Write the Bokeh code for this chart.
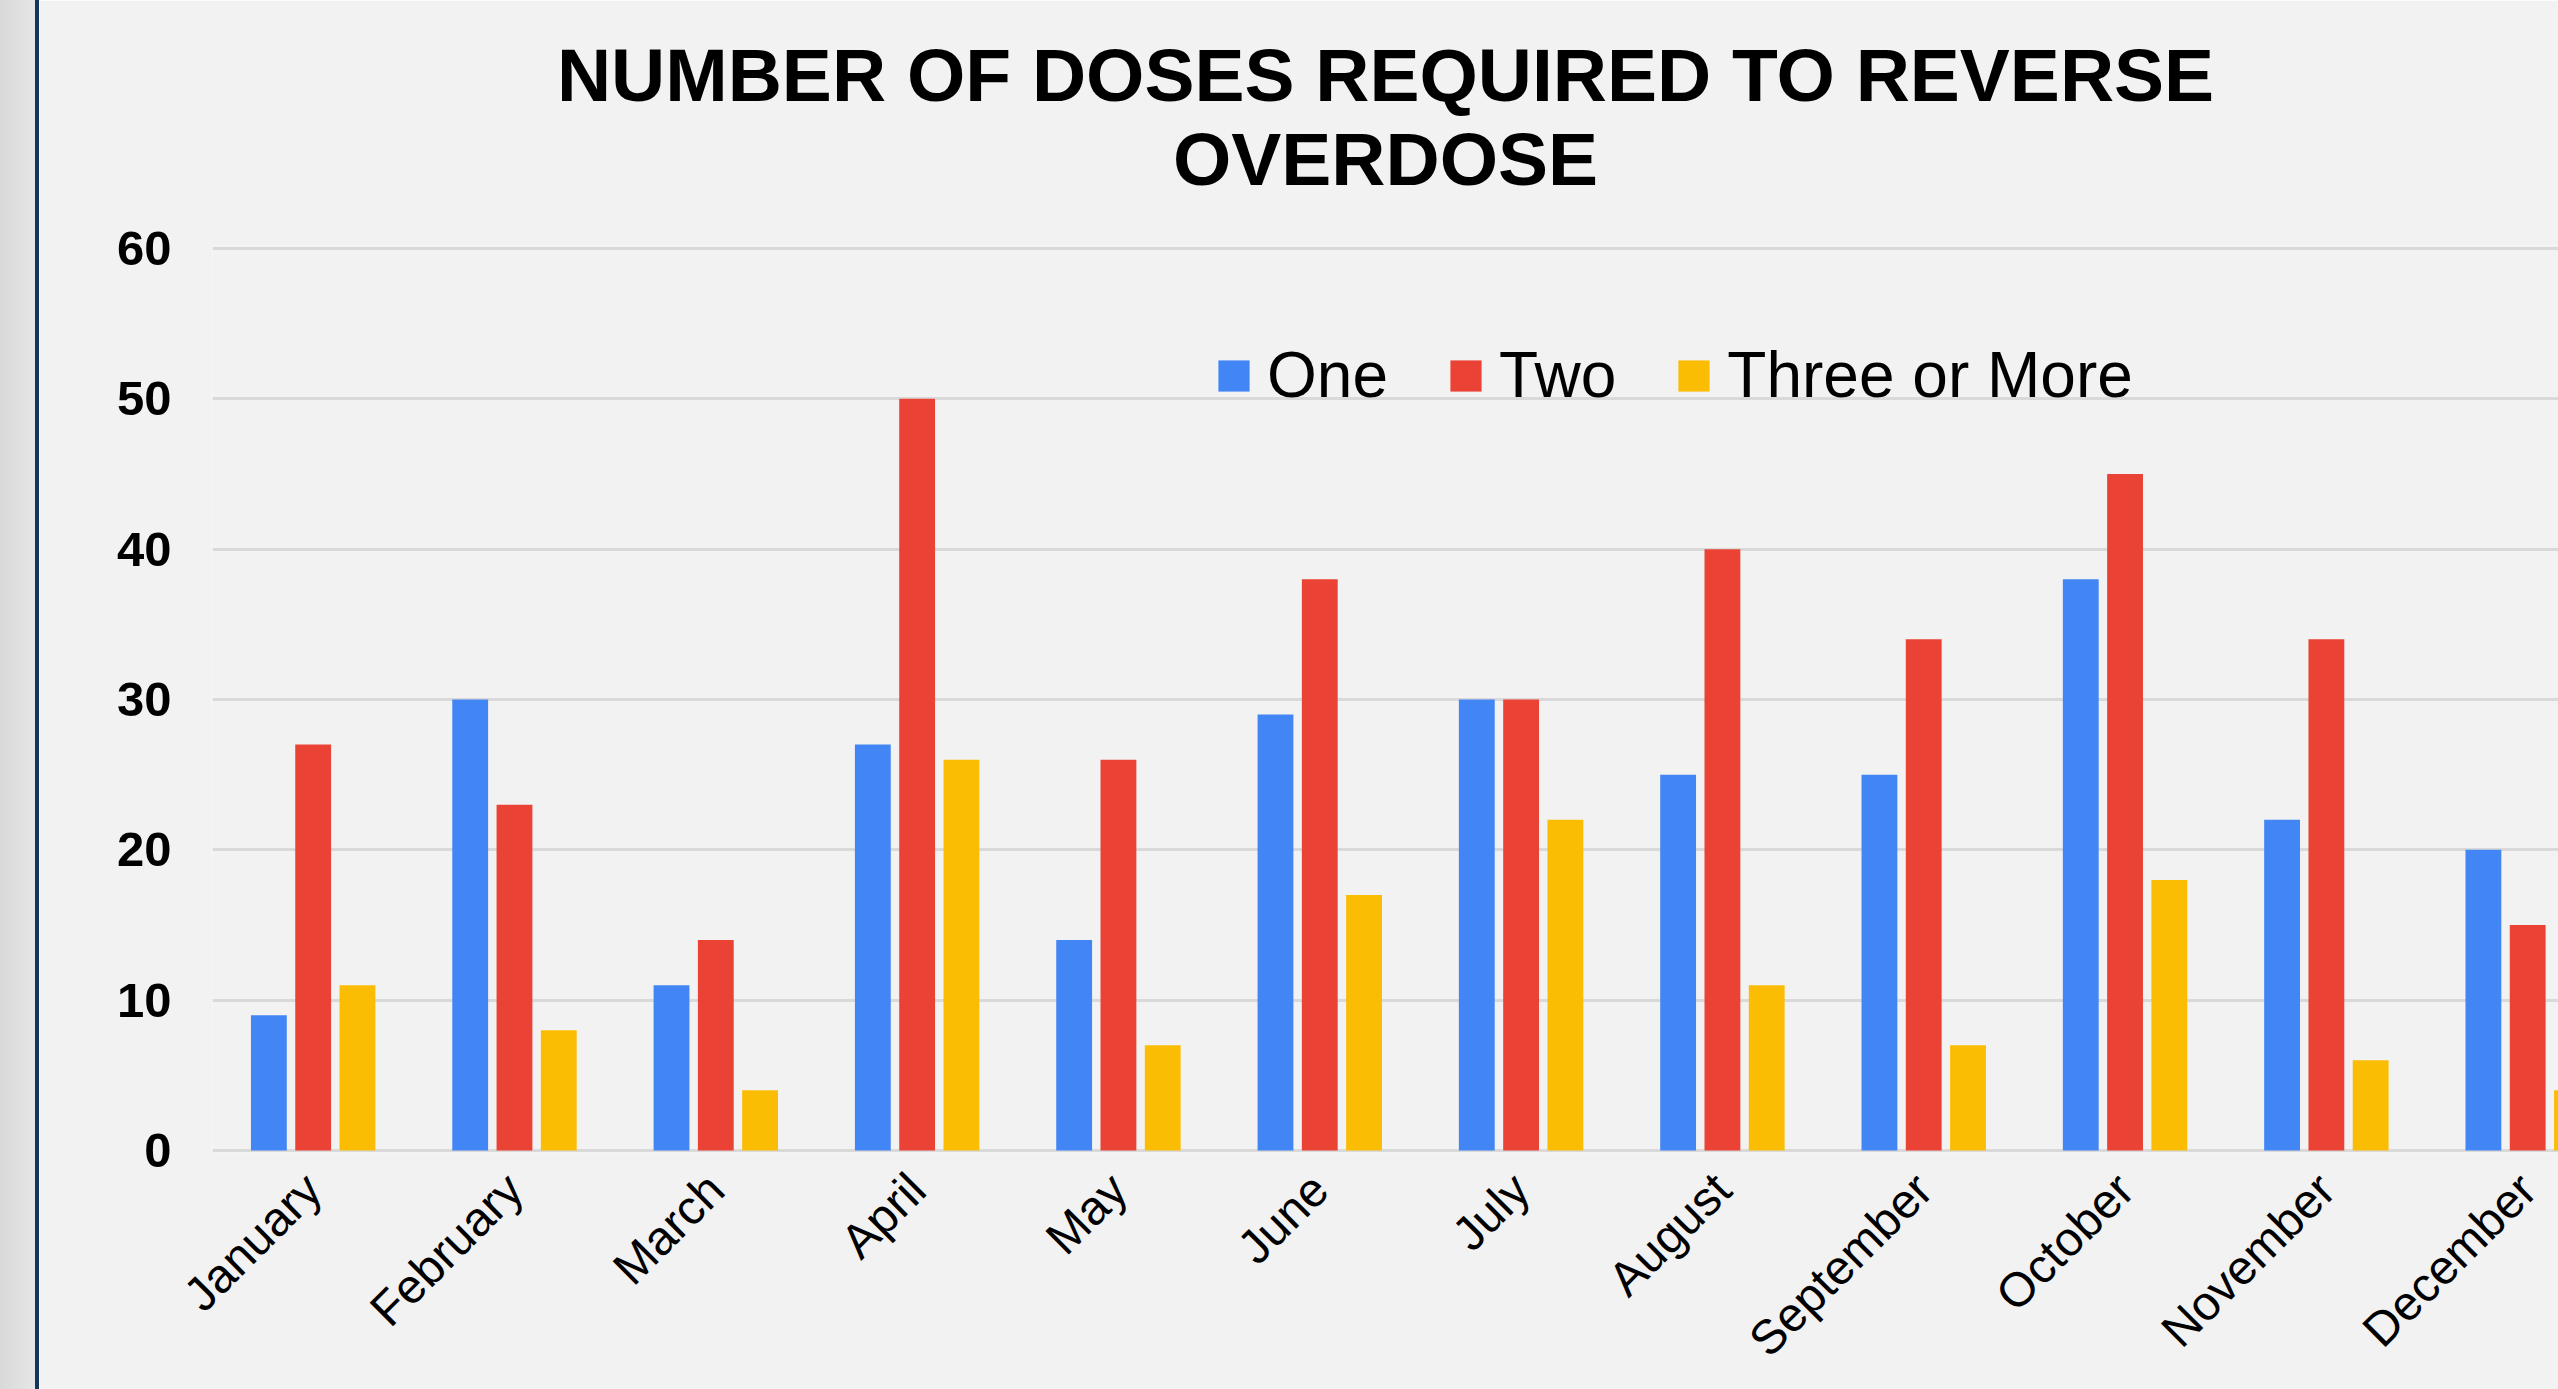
import numpy as np
from bokeh.plotting import figure
from bokeh.models import Range1d, FixedTicker, Title, Div
from bokeh.layouts import row
from bokeh.embed import file_html
from bokeh.resources import INLINE

# ---- data ----
months = ["January", "February", "March", "April", "May", "June", "July",
          "August", "September", "October", "November", "December"]
one = [9, 30, 11, 27, 14, 29, 30, 25, 25, 38, 22, 20]
two = [27, 23, 14, 50, 26, 38, 30, 40, 34, 45, 34, 15]
three_or_more = [11, 8, 4, 26, 7, 17, 22, 11, 7, 18, 6, 4]
series_names = ["One", "Two", "Three or More"]
y_ticks = [0, 10, 20, 30, 40, 50, 60]

colors = ["#4285F4", "#EA4335", "#FBBC04"]
FONT = "Liberation Sans"
W, H = 2519, 1389

p = figure(width=W, height=H,
           x_range=Range1d(0, 11.653), y_range=Range1d(-0.2, 60.2),
           output_backend="svg", toolbar_location=None,
           min_border_left=173, min_border_right=0,
           min_border_top=245, min_border_bottom=236,
           background_fill_color="#f2f2f2", border_fill_color="#f2f2f2",
           outline_line_color=None, margin=0)

centers = np.arange(len(months)) + 0.5
for k, (name, vals, col) in enumerate(zip(series_names, [one, two, three_or_more], colors)):
    p.vbar(x=centers + (k - 1) * 0.22, top=vals, width=0.178,
           fill_color=col, line_color=None, legend_label=name)

# titles
t2 = Title(text="OVERDOSE", align="center", text_font=FONT, text_font_size="75px",
           text_font_style="bold", text_color="black", standoff=89)
t1 = Title(text="NUMBER OF DOSES REQUIRED TO REVERSE", align="center", text_font=FONT,
           text_font_size="75px", text_font_style="bold", text_color="black", standoff=-92)
p.add_layout(t2, "above")
p.add_layout(t1, "above")

# x axis
xa = p.xaxis[0]
xa.ticker = FixedTicker(ticks=list(centers))
xa.major_label_overrides = {float(c): m for c, m in zip(centers, months)}
xa.major_label_orientation = np.pi / 4
xa.axis_line_color = None
xa.major_tick_line_color = None
xa.minor_tick_line_color = None
xa.major_tick_out = 0
xa.major_tick_in = 0
xa.major_label_standoff = 28
xa.major_label_text_font = FONT
xa.major_label_text_font_size = "48px"
xa.major_label_text_color = "black"

# y axis
ya = p.yaxis[0]
ya.ticker = FixedTicker(ticks=y_ticks)
ya.axis_line_color = None
ya.major_tick_line_color = None
ya.minor_tick_line_color = None
ya.major_tick_out = 0
ya.major_tick_in = 0
ya.major_label_standoff = 41
ya.major_label_text_font = FONT
ya.major_label_text_font_size = "49px"
ya.major_label_text_font_style = "bold"
ya.major_label_text_color = "black"

p.xgrid.grid_line_color = None
p.ygrid.grid_line_color = "#d9d9d9"
p.ygrid.grid_line_width = 3

leg = p.legend[0]
leg.orientation = "horizontal"
leg.location = (1002, 741)
leg.background_fill_alpha = 0
leg.border_line_color = None
leg.label_text_font = FONT
leg.label_text_font_size = "64px"
leg.label_text_color = "black"
leg.glyph_width = 39
leg.glyph_height = 39
leg.label_standoff = 14
leg.spacing = 58
leg.padding = 0
leg.margin = 0

strip = Div(width=35, height=H, margin=0,
            styles={"background": "linear-gradient(90deg, #d9d9d9, #e6e6e6)"})
edge = Div(width=4, height=H, margin=0, styles={"background": "#12355c"})
layout = row(strip, edge, p, spacing=0)

open("out.html", "w").write(file_html(layout, INLINE))
